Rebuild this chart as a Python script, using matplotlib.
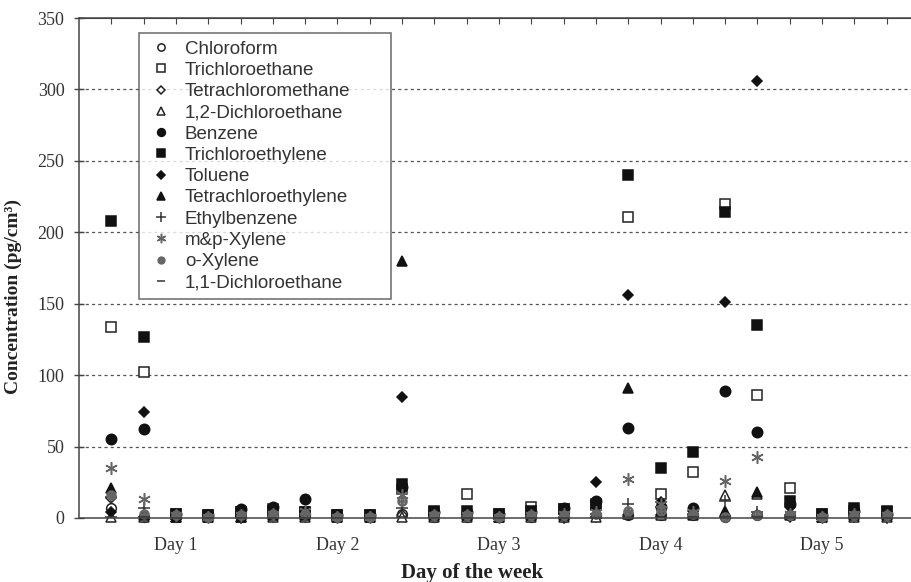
import numpy as np
import matplotlib
matplotlib.use("Agg")
import matplotlib.pyplot as plt

# --- data (samples 1..25, five per day) ---
sample = np.arange(1, 26)
day_labels = ["Day 1", "Day 2", "Day 3", "Day 4", "Day 5"]
day_pos = [3, 8, 13, 18, 23]

chloroform          = [7, 1, 1, 1, 1, 2, 2, 1, 1, 3, 1, 1, 1, 1, 1, 2, 2, 2, 2, 1, 2, 2, 1, 2, 2]
trichloroethane     = [134, 102, 3, 2, 4, 5, 4, 2, 2, 20, 4, 17, 3, 8, 6, 9, 211, 17, 32, 220, 86, 21, 3, 5, 4]
tetrachloromethane  = [14, 1, 1, 1, 1, 1, 1, 1, 1, 2, 1, 1, 1, 1, 1, 1, 2, 2, 2, 1, 2, 1, 1, 1, 1]
dichloroethane_12   = [1, 1, 1, 1, 1, 1, 1, 1, 1, 1, 1, 1, 1, 1, 1, 1, 3, 2, 2, 16, 17, 2, 1, 1, 1]
benzene             = [55, 62, 3, 2, 6, 8, 13, 2, 2, 22, 4, 4, 3, 4, 7, 12, 63, 8, 7, 89, 60, 10, 2, 5, 3]
trichloroethylene   = [208, 127, 3, 2, 4, 6, 4, 2, 2, 24, 5, 5, 3, 5, 6, 10, 240, 35, 46, 214, 135, 12, 3, 7, 5]
toluene             = [4, 74, 2, 2, 3, 4, 4, 2, 2, 85, 3, 3, 2, 3, 4, 25, 156, 11, 5, 151, 306, 8, 2, 4, 3]
tetrachloroethylene = [21, 2, 1, 1, 1, 2, 2, 1, 1, 180, 2, 2, 1, 2, 2, 4, 91, 4, 3, 5, 18, 3, 1, 2, 2]
ethylbenzene        = [15, 7, 1, 1, 0, 2, 3, 1, 1, 7, 1, 1, 1, 1, 0, 3, 10, 8, 3, 12, 4, 2, 1, 2, 0]
mp_xylene           = [35, 13, 2, 1, 2, 3, 5, 1, 1, 16, 2, 2, 1, 2, 3, 4, 27, 10, 4, 26, 43, 3, 1, 3, 2]
o_xylene            = [16, 3, 2, 1, 2, 3, 3, 1, 1, 12, 2, 2, 1, 2, 2, 3, 5, 5, 3, 1, 2, 2, 1, 2, 2]
dichloroethane_11   = [1, 1, 0, 0, 0, 0, 0, 0, 0, 1, 0, 0, 0, 0, 0, 0, 1, 1, 1, 1, 1, 1, 0, 0, 0]

# name, values, marker, size, facecolor, edgecolor
series = [
    ("Chloroform", chloroform, "o", 7, "white", "#222222"),
    ("Trichloroethane", trichloroethane, "s", 7, "white", "#222222"),
    ("Tetrachloromethane", tetrachloromethane, "D", 5.5, "white", "#222222"),
    ("1,2-Dichloroethane", dichloroethane_12, "^", 7, "white", "#222222"),
    ("Benzene", benzene, "o", 7.5, "#111111", "#111111"),
    ("Trichloroethylene", trichloroethylene, "s", 7.5, "#111111", "#111111"),
    ("Toluene", toluene, "D", 5.5, "#111111", "#111111"),
    ("Tetrachloroethylene", tetrachloroethylene, "^", 7.5, "#111111", "#111111"),
    ("Ethylbenzene", ethylbenzene, "+", 9, "#333333", "#333333"),
    ("m&p-Xylene", mp_xylene, (6, 2, 0), 9, "#666666", "#666666"),
    ("o-Xylene", o_xylene, r"$\oplus$", 6.5, "#666666", "#666666"),
    ("1,1-Dichloroethane", dichloroethane_11, "_", 8, "#333333", "#333333"),
]

fig = plt.figure(figsize=(9.11, 5.82), dpi=100)
ax = fig.add_axes([79 / 911, 64 / 582, 840 / 911, 500 / 582])

for name, vals, mk, ms, fc, ec in series:
    ax.plot(sample, vals, linestyle="none", marker=mk, markersize=ms,
            markerfacecolor=fc, markeredgecolor=ec, markeredgewidth=1.1,
            label=name, clip_on=False)

ax.set_xlim(0, 26)
ax.set_ylim(0, 350)

# dotted horizontal grid
for yv in range(50, 350, 50):
    ax.axhline(yv, color="#555555", lw=0.9, ls=(0, (2.5, 2.5)), zorder=0)

ax.set_yticks(range(0, 351, 50))
ax.tick_params(axis="y", direction="inout", length=7, width=1, pad=7,
               labelsize=13, labelcolor="#333333", color="#444444")
for lab in ax.get_yticklabels():
    lab.set_fontfamily("Liberation Serif")

ax.set_xticks(day_pos)
ax.set_xticklabels(day_labels, fontfamily="Liberation Serif", fontsize=13, color="#333333")
ax.tick_params(axis="x", length=0, pad=14)

# small ticks on the top edge, one per sample
top = ax.secondary_xaxis("top")
top.set_xticks(sample)
top.tick_params(direction="in", length=4, labeltop=False, color="#444444")
top.spines["top"].set_color("#444444")

for side in ["left", "bottom", "top"]:
    ax.spines[side].set_color("#444444")
    ax.spines[side].set_linewidth(1.1)
ax.spines["right"].set_visible(False)

fig.text(472 / 911, 1 - 573 / 582, "Day of the week", ha="center", va="center",
         fontfamily="Liberation Serif", fontweight="bold", fontsize=15, color="#222222")
fig.text(13 / 911, 1 - 297 / 582, "Concentration (pg/cm\u00b3)", ha="center", va="center",
         rotation=90, fontfamily="Liberation Serif", fontweight="bold", fontsize=14,
         color="#222222")

# legend box spans x 139..391 px, top at 33 px
leg = ax.legend(loc="upper left",
                bbox_to_anchor=(139 / 911, 1 - 294 / 582, 252 / 911, 261 / 582),
                bbox_transform=fig.transFigure, mode="expand",
                frameon=True, fancybox=False,
                prop={"family": "Liberation Sans", "size": 13.5},
                labelspacing=0.22, handlelength=1.5, handletextpad=0.55,
                borderpad=0.4, borderaxespad=0, markerscale=0.75)
leg.get_frame().set_edgecolor("#444444")
leg.get_frame().set_linewidth(1.1)
for t in leg.get_texts():
    t.set_color("#333333")

fig.savefig("out.png", dpi=100)
